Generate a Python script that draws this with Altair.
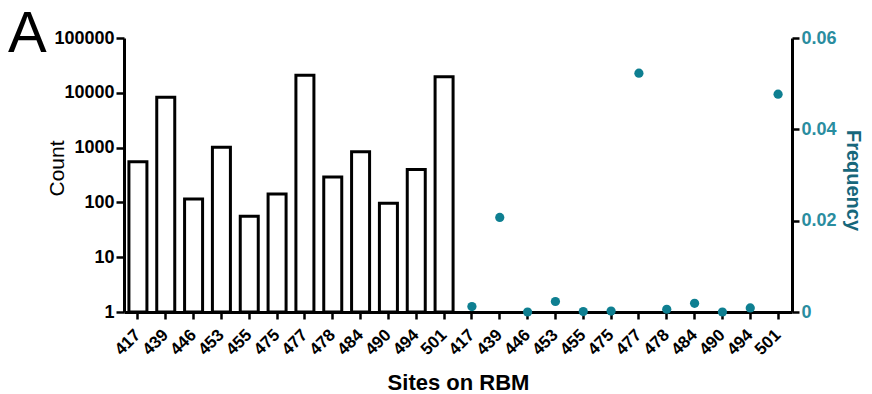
import altair as alt
import pandas as pd

sites = ["417", "439", "446", "453", "455", "475", "477", "478", "484", "490", "494", "501"]
counts = [550, 8300, 115, 1010, 56, 142, 21000, 290, 840, 96, 400, 19600]
freqs = [0.0012, 0.0207, 0.0, 0.0023, 0.0001, 0.0002, 0.0523, 0.0006, 0.0019, 0.0, 0.0009, 0.0477]

count_keys = ["c" + s for s in sites]
freq_keys = ["f" + s for s in sites]
domain = count_keys + freq_keys

df_c = pd.DataFrame({"key": count_keys, "site": sites, "Count": counts})
df_f = pd.DataFrame({"key": freq_keys, "site": sites, "Frequency": freqs})

TEAL = "#0e7f91"
TEAL_LABEL = "#2a8d9f"
TEAL_TITLE = "#17677b"
FONT = "Liberation Sans"

x_axis = alt.Axis(
    title="Sites on RBM",
    labelExpr="substring(datum.value, 1)",
    labelAngle=-45,
    labelAlign="right",
    labelBaseline="middle",
    labelFont=FONT,
    labelFontWeight="bold",
    labelFontSize=17,
    labelColor="black",
    labelPadding=13,
    tickSize=7,
    tickWidth=2.5,
    tickColor="black",
    domainColor="black",
    domainWidth=3,
    titleFont=FONT,
    titleFontSize=22,
    titleFontWeight="bold",
    titleColor="black",
    titleBaseline="alphabetic",
    titleY=77,
    grid=False,
)
x_enc = alt.X("key:N", sort=domain,
              scale=alt.Scale(domain=domain, paddingInner=0, paddingOuter=0),
              axis=x_axis)

bars = alt.Chart(df_c).mark_bar(
    size=18, fill="white", stroke="black", strokeWidth=3, strokeJoin="miter"
).encode(
    x=x_enc,
    y=alt.Y("Count:Q",
            scale=alt.Scale(type="log", domain=[1, 100000], nice=False),
            axis=alt.Axis(
                title="Count",
                orient="left",
                values=[1, 10, 100, 1000, 10000, 100000],
                format="d",
                labelFont=FONT,
                labelFontWeight="bold",
                labelFontSize=18,
                labelColor="black",
                labelPadding=2,
                tickSize=8,
                tickWidth=2.5,
                tickColor="black",
                domainColor="black",
                domainWidth=3,
                grid=False,
                titleFont=FONT,
                titleFontSize=21,
                titleFontWeight="normal",
                titleColor="black",
                titleAngle=-90,
                titleBaseline="alphabetic",
                titleAlign="center",
                titleX=-61,
                titleY=130,
            )),
    y2=alt.datum(1),
)

points = alt.Chart(df_f).mark_circle(size=85, color=TEAL, opacity=1).encode(
    x=x_enc,
    y=alt.Y("Frequency:Q",
            scale=alt.Scale(domain=[0, 0.06], nice=False),
            axis=alt.Axis(
                title="Frequency",
                orient="right",
                values=[0, 0.02, 0.04, 0.06],
                labelExpr="datum.value == 0 ? '0' : format(datum.value, '.2f')",
                labelFont=FONT,
                labelFontWeight="bold",
                labelFontSize=18,
                labelColor=TEAL_LABEL,
                labelPadding=2,
                tickSize=7,
                tickWidth=2.5,
                tickColor="black",
                domainColor="black",
                domainWidth=3,
                grid=False,
                titleFont=FONT,
                titleFontSize=20,
                titleFontWeight="bold",
                titleColor=TEAL_TITLE,
                titleAngle=90,
                titleBaseline="alphabetic",
                titleAlign="center",
                titleX=54,
                titleY=142,
            )),
)

letter = alt.Chart(pd.DataFrame({"t": ["A"]})).mark_text(
    font=FONT, fontSize=58, fontWeight="normal", color="black",
    align="left", baseline="alphabetic"
).encode(
    text="t:N",
    x=alt.value(-116),
    y=alt.value(14),
)

chart = alt.layer(bars, points, letter).resolve_scale(
    y="independent"
).properties(
    width=668,
    height=274,
    autosize=alt.AutoSizeParams(type="none"),
    padding={"left": 116, "top": 30, "right": 72, "bottom": 84},
).configure_view(stroke=None)

chart.save("out.html", embed_options={"renderer": "svg", "actions": False})
